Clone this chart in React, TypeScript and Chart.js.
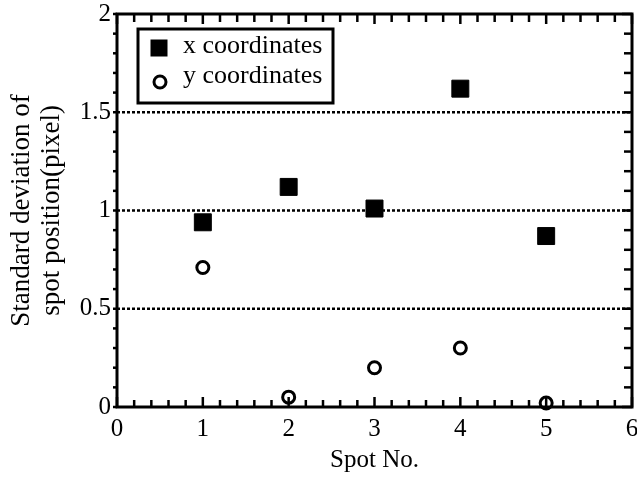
import { useEffect, useRef } from 'react';
import { Chart, registerables } from 'chart.js';

Chart.register(...registerables);

const spots = [1, 2, 3, 4, 5];
const xStd = [0.94, 1.12, 1.01, 1.62, 0.87];
const yStd = [0.71, 0.05, 0.2, 0.3, 0.02];
const seriesLabels = ['x coordinates', 'y coordinates'];
const yTickLabels: Record<string, string> = { '0': '0', '0.5': '0.5', '1': '1', '1.5': '1.5', '2': '2' };
const xTitle = 'Spot No.';
const yTitle = ['Standard deviation of', 'spot position(pixel)'];

const FONT = '"Liberation Serif", "Times New Roman", "DejaVu Serif", serif';

const framePlugin = {
  id: 'frameTicks',
  beforeDatasetsDraw(chart: any) {
    const { ctx, chartArea: a, scales } = chart;
    const xs = scales.x;
    const ys = scales.y;
    const line = (x1: number, y1: number, x2: number, y2: number) => {
      ctx.beginPath();
      ctx.moveTo(x1, y1);
      ctx.lineTo(x2, y2);
      ctx.stroke();
    };
    ctx.save();
    ctx.strokeStyle = '#000';
    // dotted grid lines
    ctx.lineWidth = 2.5;
    ctx.setLineDash([3, 2]);
    ys.ticks.forEach((t: any) => {
      if (t.value > ys.min && t.value < ys.max) {
        const p = ys.getPixelForValue(t.value);
        line(a.left, p, a.right, p);
      }
    });
    ctx.setLineDash([]);
    // x ticks (top and bottom)
    ctx.lineWidth = 2.5;
    const xMinorN = Math.round((xs.max - xs.min) * 5);
    for (let i = 0; i <= xMinorN; i++) {
      const v = xs.min + i / 5;
      const p = xs.getPixelForValue(v);
      const major = i % 5 === 0;
      line(p, a.bottom, p, a.bottom - (major ? 10 : 7));
      line(p, a.top, p, a.top + (major ? 10 : 8));
    }
    const yMinorN = Math.round((ys.max - ys.min) * 10);
    for (let i = 0; i <= yMinorN; i++) {
      const v = ys.min + i / 10;
      const p = ys.getPixelForValue(v);
      const major = i % 5 === 0;
      line(a.left - 4, p, a.left, p);
      line(a.right - (major ? 10 : 8), p, a.right, p);
    }
    // frame
    ctx.lineWidth = 3;
    ctx.strokeRect(a.left, a.top, a.right - a.left, a.bottom - a.top);
    ctx.restore();
  },
};

const legendPlugin = {
  id: 'boxLegend',
  afterDatasetsDraw(chart: any) {
    const { ctx, chartArea: a } = chart;
    const left = a.left + 21;
    const top = a.top + 15;
    const w = 195;
    const h = 74;
    ctx.save();
    ctx.fillStyle = '#fff';
    ctx.fillRect(left, top, w, h);
    ctx.strokeStyle = '#000';
    ctx.lineWidth = 3;
    ctx.strokeRect(left, top, w, h);
    // markers
    ctx.fillStyle = '#000';
    ctx.fillRect(left + 21 - 8.5, top + 19 - 8.5, 17, 17);
    ctx.beginPath();
    ctx.arc(left + 22, top + 53, 6, 0, Math.PI * 2);
    ctx.lineWidth = 3;
    ctx.stroke();
    ctx.font = `26px ${FONT}`;
    ctx.textBaseline = 'alphabetic';
    ctx.textAlign = 'left';
    const ds = chart.data.datasets;
    ctx.fillText(ds[0].label, left + 45, top + 24);
    ctx.fillText(ds[1].label, left + 45, top + 54);
    ctx.restore();
  },
};

export default function App() {
  const ref = useRef<HTMLCanvasElement>(null);
  useEffect(() => {
    const canvas = ref.current!;
    const chart = new Chart(canvas, {
      type: 'scatter',
      data: {
        datasets: [
          {
            label: seriesLabels[0],
            data: spots.map((s, i) => ({ x: s, y: xStd[i] })),
            pointStyle: 'rect',
            radius: 12,
            backgroundColor: '#000',
            borderColor: '#000',
            borderWidth: 1,
            clip: false,
          } as any,
          {
            label: seriesLabels[1],
            data: spots.map((s, i) => ({ x: s, y: yStd[i] })),
            pointStyle: 'circle',
            radius: 6,
            backgroundColor: 'rgba(0,0,0,0)',
            borderColor: '#000',
            borderWidth: 3,
            clip: false,
          } as any,
        ],
      },
      options: {
        responsive: false,
        animation: false,
        devicePixelRatio: 1,
        layout: { autoPadding: false, padding: { top: 14, right: 5, left: 0, bottom: 0 } },
        plugins: { legend: { display: false }, tooltip: { enabled: false } },
        scales: {
          x: {
            type: 'linear',
            min: 0,
            max: 6,
            grid: { display: false, drawTicks: false },
            border: { display: false },
            ticks: {
              stepSize: 1,
              autoSkip: false,
              color: '#000',
              padding: 7,
              font: { family: FONT, size: 25 },
            },
            title: {
              display: true,
              text: xTitle,
              color: '#000',
              font: { family: FONT, size: 25, lineHeight: 1.2 },
              padding: { top: 0, bottom: 4 },
            },
            afterFit(scale: any) {
              scale.height = 72;
              scale.paddingLeft = 0;
              scale.paddingRight = 0;
            },
          },
          y: {
            type: 'linear',
            min: 0,
            max: 2,
            grid: { display: false, drawTicks: false },
            border: { display: false },
            ticks: {
              stepSize: 0.5,
              autoSkip: false,
              color: '#000',
              padding: 6,
              font: { family: FONT, size: 25 },
              callback: (v: any) => yTickLabels[String(v)] ?? String(v),
            },
            title: {
              display: true,
              text: yTitle,
              color: '#000',
              font: { family: FONT, size: 27, lineHeight: 30 / 27 },
              padding: { top: 7, bottom: 0 },
            },
            afterFit(scale: any) {
              scale.width = 117;
              scale.paddingTop = 0;
              scale.paddingBottom = 0;
            },
          },
        },
      } as any,
      plugins: [framePlugin, legendPlugin],
    });
    return () => chart.destroy();
  }, []);
  return (
    <div style={{ position: 'absolute', left: 0, top: 0, width: 637, height: 479 }}>
      <canvas ref={ref} width={637} height={479} style={{ width: 637, height: 479, display: 'block' }} />
    </div>
  );
}
